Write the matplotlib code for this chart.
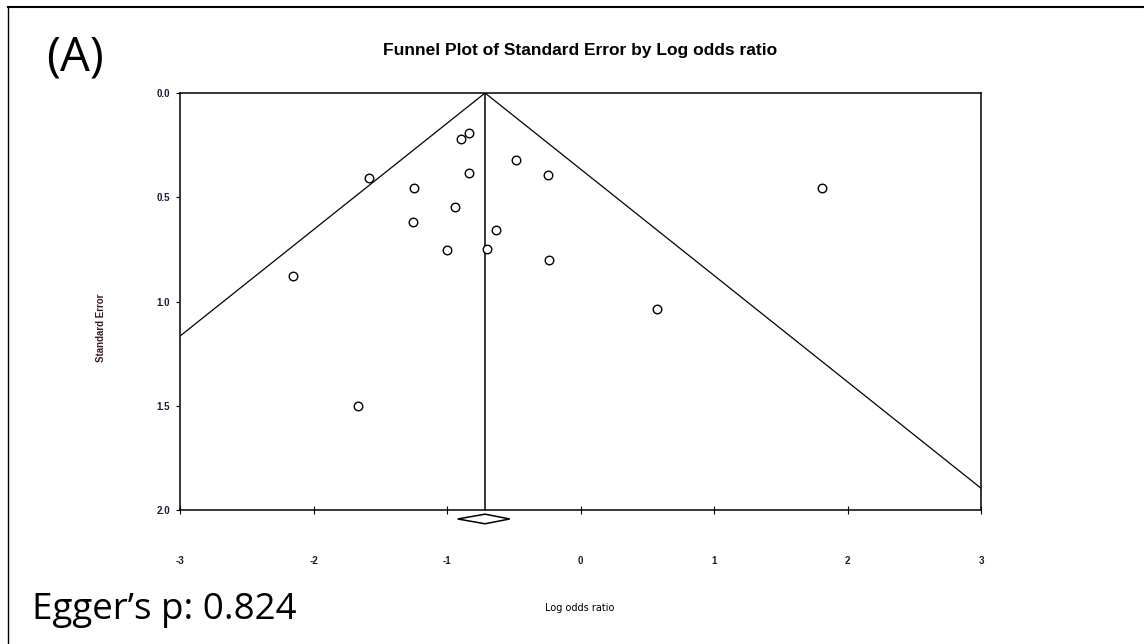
import matplotlib.pyplot as plt
import matplotlib.patches as patches
from matplotlib.lines import Line2D
import numpy as np

# study data: log odds ratio and standard error
log_or = [-0.835, -0.895, -0.483, -1.584, -0.835, -0.243, -1.247, 1.809,
          -0.94, -1.255, -0.633, -1.0, -0.70, -0.236, -2.154, 0.573, -1.667]
se = [0.192, 0.221, 0.320, 0.408, 0.384, 0.393, 0.454, 0.456,
      0.547, 0.620, 0.657, 0.753, 0.748, 0.801, 0.876, 1.036, 1.501]

pooled = -0.715
ci_low, ci_high = -0.92, -0.53

xticks = [-3, -2, -1, 0, 1, 2, 3]
yticks = [0.0, 0.5, 1.0, 1.5, 2.0]

W, H = 1144, 644
fig = plt.figure(figsize=(W / 100, H / 100), dpi=100)
ax = fig.add_axes([180 / W, 1 - 510 / H, (981 - 180) / W, (510 - 93) / H])

# funnel lines
se_line = np.array([0, 2.0])
ax.plot(pooled - 1.96 * se_line, se_line, color='black', lw=0.9)
ax.plot(pooled + 1.96 * se_line, se_line, color='black', lw=0.9)
ax.plot([pooled, pooled], [0, 2.0], color='black', lw=1.1)

ax.scatter(log_or, se, s=38, facecolors='white', edgecolors='black', linewidths=1.0, zorder=3)

# diamond for pooled estimate, drawn below the axis
dia = patches.Polygon([[ci_low, 2.043], [pooled, 2.02], [ci_high, 2.043], [pooled, 2.066]],
                      closed=True, fill=False, ec='black', lw=1.1, clip_on=False)
ax.add_patch(dia)

ax.set_xlim(-3, 3)
ax.set_ylim(2.0, 0.0)
ax.set_xticks(xticks)
ax.set_xticklabels([str(t) for t in xticks])
ax.set_yticks(yticks)
ax.set_yticklabels(['%.1f' % t for t in yticks])
for s in ax.spines.values():
    s.set_linewidth(1.1)
ax.tick_params(axis='x', direction='inout', length=6, pad=30, labelsize=7, labelcolor='#1a1a3a')
ax.tick_params(axis='y', direction='out', length=3, pad=4, labelsize=7, labelcolor='#1a1a3a')
for lab in ax.get_xticklabels() + ax.get_yticklabels():
    lab.set_fontweight('bold')
    lab.set_family('Liberation Sans')

fig.text(580 / W, 1 - 50 / H, 'Funnel Plot of Standard Error by Log odds ratio',
         ha='center', va='center', fontsize=12.5, fontweight='bold', family='Liberation Sans')
fig.text(101 / W, 1 - 328 / H, 'Standard Error', rotation=90, ha='center', va='center',
         fontsize=7, fontweight='bold', family='Liberation Sans', color='#3a1a2a')
fig.text(580 / W, 1 - 608 / H, 'Log odds ratio', ha='center', va='center',
         fontsize=7, family='Liberation Sans Narrow')

fig.text(46 / W, 1 - 58 / H, '(A)', ha='left', va='center', fontsize=34, family='Open Sans')
fig.text(32 / W, 1 - 610 / H, 'Egger\u2019s p: 0.824', ha='left', va='center', fontsize=26.5,
         family='Open Sans')

# frame lines on top and left edges of the figure
fig.add_artist(Line2D([8 / W, 1], [1 - 7 / H, 1 - 7 / H], color='black', lw=1.5))
fig.add_artist(Line2D([8 / W, 8 / W], [0, 1 - 7 / H], color='black', lw=1.0))

fig.savefig('out.png', dpi=100)
